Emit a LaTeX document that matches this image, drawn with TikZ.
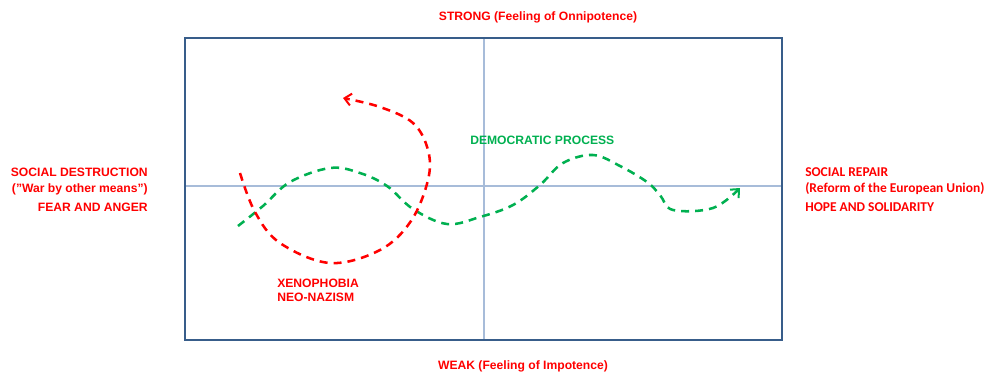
\documentclass[tikz,border=0pt]{standalone}
\usepackage{fontspec}
\setmainfont{Liberation Sans}[Ligatures=ResetAll]
\newfontfamily\carlito{Carlito}
\usetikzlibrary{arrows.meta}
\definecolor{boxblue}{HTML}{385D8A}
\definecolor{axisblue}{HTML}{A7BCD9}
\definecolor{dgreen}{HTML}{00B050}
\tikzset{
  lbl/.style={font=\bfseries\fontsize{9.1}{10}\selectfont, text=red, inner sep=0pt},
  rlbl/.style={font=\carlito\bfseries\fontsize{10.1}{11}\selectfont, text=red, inner sep=0pt, anchor=west},
  curve/.style={line width=1.9pt, dash pattern=on 6pt off 4.5pt, -{Straight Barb[length=5pt,width=9pt,line width=1.5pt]}},
}
\begin{document}
\begin{tikzpicture}[x=0.75pt,y=-0.75pt]
\useasboundingbox (0,0) rectangle (1000,383);
% axes
\coordinate (vt) at (484,37);
\coordinate (vb) at (484,339);
\coordinate (hl) at (184,186);
\coordinate (hr) at (781,186);
\draw[axisblue, line width=0.9pt] (vt) -- (vb);
\draw[axisblue, line width=0.9pt] (hl) -- (hr);
\node[draw=boxblue, line width=1.5pt, minimum width=447.75pt, minimum height=226.5pt, inner sep=0pt, anchor=north west] (box) at (184,37) {};
% labels
\node[lbl] (strong) at (538,17) {STRONG (Feeling of Onnipotence)};
\node[lbl] (weak) at (523,366) {WEAK (Feeling of Impotence)};
\node[lbl, anchor=east] (sd1) at (148,172) {SOCIAL DESTRUCTION};
\node[lbl, anchor=east] (sd2) at (148,189) {("War by other means")};
\node[lbl, anchor=east] (sd3) at (148,207) {FEAR AND ANGER};
\node[rlbl] (sr1) at (805,172) {SOCIAL REPAIR};
\node[rlbl] (sr2) at (805,189) {(Reform of the European Union)};
\node[rlbl] (sr3) at (805,207) {HOPE AND SOLIDARITY};
\node[lbl, text=dgreen, anchor=west] (dem) at (470,140) {DEMOCRATIC PROCESS};
\node[lbl, anchor=west] (xen) at (277,283) {XENOPHOBIA};
\node[lbl, anchor=west] (neo) at (277,297) {NEO-NAZISM};
% green curve
\draw[curve, dgreen] plot[smooth, tension=0.6] coordinates {(238,226) (263,206) (290,182) (330,168) (360,173) (387,186) (413,209) (447,224) (480,217) (513,205) (540,185) (563,163) (593,155) (620,166) (647,182) (660,195) (673,210) (713,208) (740,188)};
% red curve
\draw[curve, red] plot[smooth, tension=0.6] coordinates {(240,173) (255,212) (280,243) (330,263) (380,250) (411,221) (428,180) (428,150) (413,123) (380,107) (343,98)};
\end{tikzpicture}
\end{document}
